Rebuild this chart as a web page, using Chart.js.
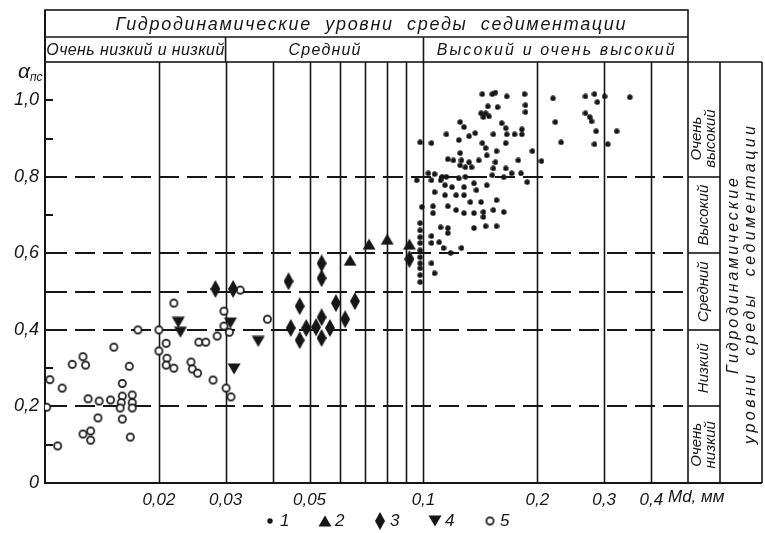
<!DOCTYPE html>
<html>
<head>
<meta charset="utf-8">
<script src="https://cdn.jsdelivr.net/npm/chart.js@4.4.1/dist/chart.umd.min.js"></script>
<style>
  html, body { margin: 0; background: #fff; }
  #wrap { width: 765px; height: 533px; }
</style>
</head>
<body>
<div id="wrap"><canvas id="chart" width="765" height="533"></canvas></div>
<script>
// ---------- DATA (Md, мм ; α пс) ----------
const xTicks      = [0.02, 0.03, 0.05, 0.1, 0.2, 0.3, 0.4];
const xTickLabels = ['0,02', '0,03', '0,05', '0,1', '0,2', '0,3', '0,4'];
const yTicks      = [0, 0.2, 0.4, 0.6, 0.8, 1.0];
const yTickLabels = ['0', '0,2', '0,4', '0,6', '0,8', '1,0'];
const yMinor      = [0.1, 0.2, 0.3, 0.4, 0.5, 0.6, 0.7, 0.8, 0.9, 1.0];
const vLines      = [0.02, 0.03, 0.04, 0.05, 0.06, 0.07, 0.08, 0.09, 0.1, 0.2, 0.3, 0.4];
const levelLines  = [0.2, 0.4, 0.5, 0.6, 0.8];

const headTitle   = 'Гидродинамические  уровни  среды  седиментации';
const headGroups  = ['Очень низкий и низкий', 'Средний', 'Высокий и очень высокий'];
const groupBreaks = [0.01, 0.03, 0.1, 0.5];
const sideLevels  = [['Очень', 'высокий'], ['Высокий'], ['Средний'], ['Низкий'], ['Очень', 'низкий']];
const sideBands   = [[0.8, 1.0], [0.6, 0.8], [0.4, 0.6], [0.2, 0.4], [0, 0.2]];
const sideTitle   = ['Гидродинамические', 'уровни  среды  седиментации'];
const legendLabels = ['1', '2', '3', '4', '5'];

const s1 = [
  [0.143,1.016],[0.152,1.016],[0.155,1.02],[0.166,1.01],[0.185,1.016],
  [0.22,1.005],[0.268,1.01],[0.283,1.016],[0.301,1.01],[0.351,1.008],[0.288,0.995],
  [0.186,0.987],[0.186,0.969],[0.148,0.984],[0.157,0.982],
  [0.142,0.966],[0.146,0.966],[0.149,0.958],[0.144,0.956],
  [0.268,0.966],[0.275,0.956],[0.278,0.945],[0.223,0.943],
  [0.125,0.943],[0.128,0.93],[0.161,0.94],[0.165,0.927],
  [0.286,0.919],[0.324,0.919],
  [0.115,0.911],[0.137,0.914],[0.132,0.906],[0.153,0.911],[0.166,0.911],[0.174,0.911],[0.182,0.924],[0.182,0.911],
  [0.124,0.896],[0.143,0.888],[0.165,0.888],[0.098,0.89],[0.105,0.888],
  [0.231,0.89],[0.283,0.885],[0.307,0.885],
  [0.146,0.875],[0.147,0.856],[0.156,0.867],[0.194,0.867],[0.205,0.841],
  [0.125,0.862],[0.116,0.846],[0.12,0.843],[0.126,0.843],[0.132,0.838],[0.14,0.843],
  [0.129,0.825],[0.134,0.825],[0.155,0.838],[0.178,0.843],[0.125,0.83],
  [0.153,0.822],[0.165,0.822],[0.171,0.809],[0.181,0.809],[0.188,0.786],
  [0.152,0.804],[0.163,0.799],[0.147,0.778],
  [0.103,0.809],[0.107,0.807],[0.112,0.8],[0.115,0.8],[0.124,0.796],[0.129,0.8],
  [0.096,0.791],[0.105,0.791],[0.111,0.791],
  [0.114,0.778],[0.119,0.773],[0.128,0.773],[0.136,0.783],[0.138,0.765],
  [0.107,0.76],[0.114,0.752],[0.122,0.752],[0.128,0.752],[0.133,0.734],[0.142,0.734],[0.156,0.739],
  [0.099,0.721],[0.106,0.723],[0.116,0.723],[0.122,0.713],[0.128,0.705],[0.136,0.705],
  [0.144,0.708],[0.153,0.713],[0.163,0.708],[0.144,0.695],[0.106,0.705],
  [0.098,0.679],[0.111,0.668],[0.116,0.666],[0.116,0.653],[0.136,0.666],[0.146,0.671],[0.156,0.671],
  [0.098,0.66],[0.098,0.642],[0.098,0.627],[0.098,0.608],[0.098,0.59],[0.098,0.574],
  [0.098,0.561],[0.098,0.543],[0.098,0.525],
  [0.105,0.645],[0.105,0.627],[0.11,0.629],[0.113,0.614],[0.118,0.601],[0.126,0.614],
  [0.105,0.574],[0.107,0.548]
];
const s2 = [[0.064,0.582],[0.0718,0.624],[0.0802,0.637],[0.0918,0.624]];
const s3 = [
  [0.0282,0.507],[0.0314,0.507],[0.044,0.527],[0.0538,0.574],[0.0538,0.535],
  [0.0471,0.462],[0.0587,0.47],[0.0659,0.475],[0.0621,0.428],[0.0538,0.433],
  [0.0446,0.405],[0.049,0.405],[0.052,0.407],[0.0566,0.405],[0.0471,0.373],[0.0538,0.379],
  [0.0918,0.585]
];
const s4 = [[0.0225,0.42],[0.0228,0.394],[0.0309,0.418],[0.0366,0.37],[0.0316,0.298]];
const s5 = [
  [0.0176,0.40],[0.02,0.40],[0.0152,0.355],[0.0126,0.33],[0.0118,0.31],[0.0128,0.308],
  [0.0167,0.305],[0.0103,0.27],[0.0111,0.248],[0.016,0.26],[0.013,0.22],[0.0139,0.214],
  [0.0149,0.217],[0.016,0.227],[0.017,0.23],[0.0159,0.21],[0.017,0.21],[0.0158,0.196],
  [0.017,0.196],[0.0101,0.198],[0.0138,0.17],[0.016,0.167],[0.0126,0.128],[0.0132,0.136],
  [0.0132,0.112],[0.0168,0.12],[0.0108,0.097],
  [0.0328,0.504],[0.0219,0.47],[0.0297,0.449],[0.0387,0.428],[0.0297,0.41],[0.0307,0.394],
  [0.0285,0.384],[0.0255,0.368],[0.0266,0.368],[0.0209,0.365],[0.02,0.345],[0.021,0.326],
  [0.0209,0.308],[0.0219,0.30],[0.0243,0.316],[0.0245,0.298],[0.0253,0.287],[0.0278,0.269],
  [0.0301,0.248],[0.031,0.225]
];

// ---------- STYLE ----------
const INK  = '#161616';
const FONT = "'Liberation Sans', 'DejaVu Sans', sans-serif";

// markers as small canvases (tall diamonds, inverted triangles, rings)
function marker(w, h, draw) {
  const c = document.createElement('canvas');
  c.width = w; c.height = h;
  const g = c.getContext('2d');
  g.fillStyle = INK; g.strokeStyle = INK;
  draw(g);
  return c;
}
const mDot = marker(6, 6, g => { g.beginPath(); g.arc(3, 3, 2.7, 0, Math.PI * 2); g.fill(); });
const mTriUp = marker(14, 12, g => { g.beginPath(); g.moveTo(7, 0.5); g.lineTo(13.5, 11.5); g.lineTo(0.5, 11.5); g.closePath(); g.fill(); });
const mDiamond = marker(10, 18, g => { g.beginPath(); g.moveTo(5, 0); g.lineTo(10, 9); g.lineTo(5, 18); g.lineTo(0, 9); g.closePath(); g.fill(); });
const mTriDown = marker(14, 12, g => { g.beginPath(); g.moveTo(0.5, 0.5); g.lineTo(13.5, 0.5); g.lineTo(7, 11.5); g.closePath(); g.fill(); });
const mRing = marker(11, 11, g => {
  g.beginPath(); g.arc(5.5, 5.5, 3.6, 0, Math.PI * 2);
  g.fillStyle = '#fff'; g.fill(); g.lineWidth = 1.7; g.stroke();
});

const toXY = arr => arr.map(([x, y]) => ({ x, y }));
const ds = (label, arr, style) => ({ label, data: toXY(arr), pointStyle: style, pointRadius: 4, showLine: false });

// ---------- DRAW HELPERS ----------
function line(ctx, x1, y1, x2, y2) { ctx.beginPath(); ctx.moveTo(x1, y1); ctx.lineTo(x2, y2); ctx.stroke(); }
function text(ctx, s, x, y, size, o = {}) {
  ctx.save();
  ctx.translate(x, y);
  if (o.rotate) ctx.rotate(o.rotate);
  ctx.font = `italic ${size}px ${FONT}`;
  ctx.fillStyle = INK;
  ctx.textBaseline = 'middle';
  ctx.textAlign = o.align || 'center';
  if (o.width && 'letterSpacing' in ctx) {
    const w = ctx.measureText(s).width;
    const sp = Math.max(0, (o.width - w) / Math.max(1, s.length - 1));
    ctx.letterSpacing = sp + 'px';
    ctx.textAlign = 'left';
    ctx.fillText(s, -o.width / 2, 0);
  } else {
    ctx.fillText(s, 0, 0);
  }
  ctx.restore();
}

const HEAD_TOP = 10, HEAD_MID = 37, COL2 = 720, COL3 = 762;

const frame = {
  id: 'frame',
  beforeDatasetsDraw(chart) {
    const { ctx, chartArea: a, scales: { x, y } } = chart;
    ctx.save();
    ctx.strokeStyle = INK;

    // vertical lines
    ctx.lineWidth = 1.6;
    vLines.forEach(v => { const px = Math.round(x.getPixelForValue(v)) + 0.5; line(ctx, px, a.top, px, a.bottom); });

    // dashed levels
    ctx.lineWidth = 2;
    ctx.setLineDash([20, 8]);
    levelLines.forEach(v => { const py = Math.round(y.getPixelForValue(v)); line(ctx, a.left + 2, py, a.right, py); });
    ctx.setLineDash([]);

    // axes
    ctx.lineWidth = 2;
    line(ctx, a.left, HEAD_TOP, a.left, a.bottom + 1);
    line(ctx, a.left, a.bottom, COL3, a.bottom);
    yMinor.forEach(v => { const py = Math.round(y.getPixelForValue(v)); line(ctx, a.left, py, a.left + 8, py); });

    // header table
    ctx.lineWidth = 1.6;
    ctx.strokeRect(a.left, HEAD_TOP, a.right - a.left, a.top - HEAD_TOP);
    line(ctx, a.left, HEAD_MID, a.right, HEAD_MID);
    groupBreaks.slice(1, -1).forEach(v => { const px = x.getPixelForValue(v); line(ctx, px, HEAD_MID, px, a.top); });

    // right side table
    line(ctx, a.right, a.top, COL3, a.top);
    line(ctx, a.right, a.top, a.right, a.bottom);
    line(ctx, COL2, a.top, COL2, a.bottom);
    line(ctx, COL3, a.top, COL3, a.bottom);
    [0.8, 0.6, 0.4, 0.2].forEach(v => { const py = Math.round(y.getPixelForValue(v)); line(ctx, a.right, py, COL2, py); });
    ctx.restore();

    // header texts
    text(ctx, headTitle, (a.left + a.right) / 2 + 4, (HEAD_TOP + HEAD_MID) / 2 + 1, 18, { width: 510 });
    const gw = [178, 72, 238];
    headGroups.forEach((g, i) => {
      const l = x.getPixelForValue(groupBreaks[i]), r = x.getPixelForValue(groupBreaks[i + 1]);
      text(ctx, g, (l + r) / 2, (HEAD_MID + a.top) / 2 + 1, 16, { width: gw[i] });
    });

    // side level texts
    const cx = (a.right + COL2) / 2;
    sideLevels.forEach((lines, i) => {
      const cy = (y.getPixelForValue(sideBands[i][0]) + y.getPixelForValue(sideBands[i][1])) / 2;
      lines.forEach((s, k) => {
        const off = (k - (lines.length - 1) / 2) * 14;
        text(ctx, s, cx + off, cy, 15, { rotate: -Math.PI / 2 });
      });
    });
    text(ctx, sideTitle[0], COL2 + 14, 276, 16, { rotate: -Math.PI / 2, width: 196 });
    text(ctx, sideTitle[1], COL2 + 31, 285, 16, { rotate: -Math.PI / 2, width: 318 });
  },
  afterDraw(chart) {
    const { ctx, chartArea: a } = chart;
    // axis names
    text(ctx, 'α', a.left - 27, 72, 21, { align: 'left' });
    text(ctx, 'пс', a.left - 15, 78, 12, { align: 'left' });
    text(ctx, 'Md, мм', a.right - 20, 497, 17, { align: 'left' });
    // legend
    chart.data.datasets.forEach((d, i) => {
      const img = d.pointStyle;
      const mx = 270 + i * 55;
      ctx.drawImage(img, mx - img.width / 2, 521 - img.height / 2);
      text(ctx, legendLabels[i], mx + 10, 521, 17, { align: 'left' });
    });
  }
};

new Chart(document.getElementById('chart'), {
  type: 'scatter',
  data: {
    datasets: [
      ds('1', s1, mDot),
      ds('2', s2, mTriUp),
      ds('3', s3, mDiamond),
      ds('4', s4, mTriDown),
      ds('5', s5, mRing)
    ]
  },
  options: {
    responsive: false,
    animation: false,
    events: [],
    layout: { padding: { top: 62, right: 77, left: 0, bottom: 0 } },
    plugins: { legend: { display: false }, tooltip: { enabled: false } },
    scales: {
      x: {
        type: 'logarithmic', min: 0.01, max: 0.5,
        afterBuildTicks: s => { s.ticks = xTicks.map(v => ({ value: v })); },
        afterFit: s => { s.height = 50; },
        grid: { display: false, drawTicks: false },
        border: { display: false },
        ticks: {
          autoSkip: false, maxRotation: 0, padding: 7, color: INK,
          font: { family: FONT, size: 17, style: 'italic' },
          callback: (v, i) => xTickLabels[i]
        }
      },
      y: {
        min: 0, max: 1.1,
        afterBuildTicks: s => { s.ticks = yTicks.map(v => ({ value: v })); },
        afterFit: s => { s.width = 45; },
        grid: { display: false, drawTicks: false },
        border: { display: false },
        ticks: {
          padding: 6, color: INK,
          font: { family: FONT, size: 18, style: 'italic' },
          callback: (v, i) => yTickLabels[i]
        }
      }
    }
  },
  plugins: [frame]
});
</script>
</body>
</html>
